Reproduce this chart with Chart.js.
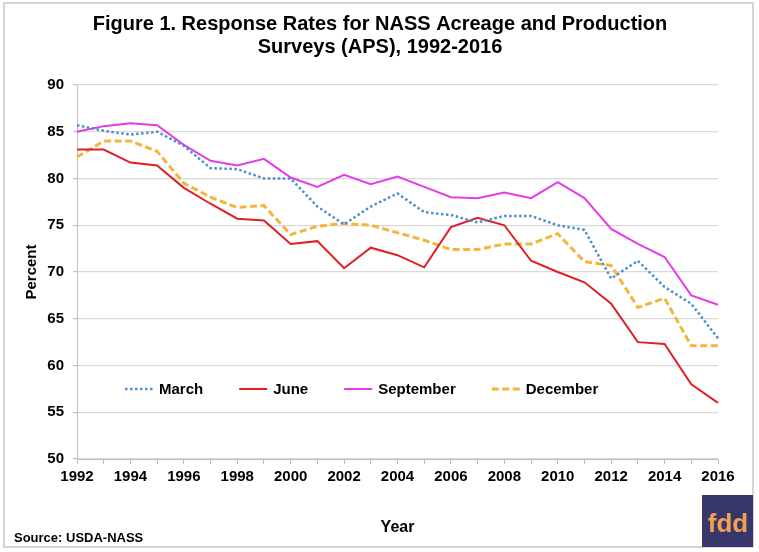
<!DOCTYPE html>
<html>
<head>
<meta charset="utf-8">
<script src="https://cdn.jsdelivr.net/npm/chart.js@4.4.1/dist/chart.umd.min.js"></script>
<style>
  html, body { margin: 0; padding: 0; background: #fff; }
  canvas { display: block; }
</style>
</head>
<body>
<canvas id="apsChart" width="759" height="552"></canvas>
<script>
// Response rates (%)
const years = ['1992', '1993', '1994', '1995', '1996', '1997', '1998', '1999', '2000', '2001', '2002', '2003', '2004',
               '2005', '2006', '2007', '2008', '2009', '2010', '2011', '2012', '2013', '2014', '2015', '2016'];
const march     = [85.7, 85.1, 84.7, 85.0, 83.5, 81.1, 81.0, 80.0, 80.0, 77.0, 75.1, 77.0, 78.4,
                   76.4, 76.1, 75.3, 76.0, 76.0, 75.0, 74.5, 69.3, 71.2, 68.4, 66.6, 62.9];
const june      = [83.1, 83.1, 81.7, 81.4, 79.0, 77.3, 75.7, 75.5, 73.0, 73.3, 70.4, 72.6, 71.8,
                   70.5, 74.8, 75.8, 75.0, 71.2, 70.0, 68.9, 66.6, 62.5, 62.3, 58.0, 56.0];
const september = [85.0, 85.6, 85.9, 85.7, 83.6, 81.9, 81.4, 82.1, 80.1, 79.1, 80.4, 79.4, 80.2,
                   79.1, 78.0, 77.9, 78.5, 77.9, 79.6, 77.9, 74.6, 73.0, 71.6, 67.5, 66.5];
const december  = [82.3, 84.0, 84.0, 82.9, 79.5, 78.0, 76.9, 77.1, 74.0, 74.9, 75.2, 75.0, 74.2,
                   73.4, 72.4, 72.4, 73.0, 73.0, 74.1, 71.1, 70.7, 66.2, 67.2, 62.1, 62.1];
const yTicks = [50, 55, 60, 65, 70, 75, 80, 85, 90];

const titleLines = ['Figure 1. Response Rates for NASS Acreage and Production', 'Surveys (APS), 1992-2016'];

// title, framed border, source note, logo and in-plot legend
const decorPlugin = {
    id: 'decor',
    afterDraw(chart) {
        const ctx = chart.ctx;
        const area = chart.chartArea;
        ctx.save();

        ctx.strokeStyle = '#c8c8c8';
        ctx.lineWidth = 1.5;
        ctx.strokeRect(4, 3, 749, 544);

        ctx.fillStyle = '#000';
        ctx.font = 'bold 20px "Liberation Sans", Arial, sans-serif';
        ctx.textAlign = 'center';
        ctx.textBaseline = 'middle';
        ctx.fillText(titleLines[0], 380, 24);
        ctx.fillText(titleLines[1], 380, 47);

        ctx.font = 'bold 13px "Liberation Sans", Arial, sans-serif';
        ctx.textAlign = 'left';
        ctx.fillText('Source: USDA-NASS', 14, 538);

        ctx.fillStyle = '#37376b';
        ctx.fillRect(702, 495, 51, 52);
        ctx.fillStyle = '#f2a14e';
        ctx.font = 'bold 26px "Liberation Sans", Arial, sans-serif';
        ctx.textAlign = 'center';
        ctx.textBaseline = 'alphabetic';
        ctx.fillText('fdd', 728, 532);

        // legend
        const ly = 389;
        let lx = area.left + 48;
        ctx.font = 'bold 15px "Liberation Sans", Arial, sans-serif';
        ctx.textAlign = 'left';
        ctx.textBaseline = 'middle';
        chart.data.datasets.forEach(ds => {
            ctx.beginPath();
            ctx.strokeStyle = ds.borderColor;
            ctx.lineWidth = ds.borderWidth;
            ctx.setLineDash(ds.borderDash || []);
            ctx.moveTo(lx, ly);
            ctx.lineTo(lx + 28, ly);
            ctx.stroke();
            ctx.setLineDash([]);
            ctx.fillStyle = '#000';
            ctx.fillText(ds.label, lx + 34, ly + 1);
            lx += 34 + ctx.measureText(ds.label).width + 36;
        });
        ctx.restore();
    }
};

const ctx = document.getElementById('apsChart').getContext('2d');
const apsChart = new Chart(ctx, {
    type: 'line',
    data: {
        labels: years,
        datasets: [
            { label: 'March', data: march, borderColor: '#4e8fc9', borderWidth: 2.5, borderDash: [2.5, 2.5] },
            { label: 'June', data: june, borderColor: '#e01f26', borderWidth: 2 },
            { label: 'September', data: september, borderColor: '#e43ce8', borderWidth: 2 },
            { label: 'December', data: december, borderColor: '#f5b53a', borderWidth: 3, borderDash: [7, 3.5] }
        ]
    },
    options: {
        responsive: false,
        animation: false,
        layout: { padding: { top: 85, right: 41, left: 0, bottom: 0 } },
        elements: {
            point: { radius: 0 },
            line: { tension: 0, fill: false }
        },
        plugins: {
            legend: { display: false },
            tooltip: { enabled: false }
        },
        scales: {
            x: {
                offset: false,
                afterFit: s => { s.height = 93; },
                grid: { drawOnChartArea: false, drawTicks: true, tickLength: 5, color: '#bfbfbf' },
                border: { color: '#bfbfbf', width: 1 },
                ticks: {
                    autoSkip: false,
                    maxRotation: 0,
                    padding: 4,
                    color: '#000',
                    font: { family: '"Liberation Sans", Arial, sans-serif', size: 15, weight: 'bold' },
                    callback: (v, i) => (i % 2 === 0 ? years[i] : '')
                },
                title: {
                    display: true,
                    text: 'Year',
                    color: '#000',
                    font: { family: '"Liberation Sans", Arial, sans-serif', size: 16, weight: 'bold' },
                    padding: { top: 0, bottom: 15 }
                }
            },
            y: {
                min: 50,
                max: 90,
                afterFit: s => { s.width = 77; },
                afterBuildTicks: s => { s.ticks = yTicks.map(v => ({ value: v })); },
                grid: { color: '#d9d9d9', lineWidth: 1.2, tickLength: 4, tickColor: '#bfbfbf' },
                border: { color: '#bfbfbf', width: 1 },
                ticks: {
                    padding: 9,
                    color: '#000',
                    font: { family: '"Liberation Sans", Arial, sans-serif', size: 15, weight: 'bold' }
                },
                title: {
                    display: true,
                    text: 'Percent',
                    color: '#000',
                    font: { family: '"Liberation Sans", Arial, sans-serif', size: 15, weight: 'bold' },
                    padding: { top: 23, bottom: 0 }
                }
            }
        }
    },
    plugins: [decorPlugin]
});
</script>
</body>
</html>
